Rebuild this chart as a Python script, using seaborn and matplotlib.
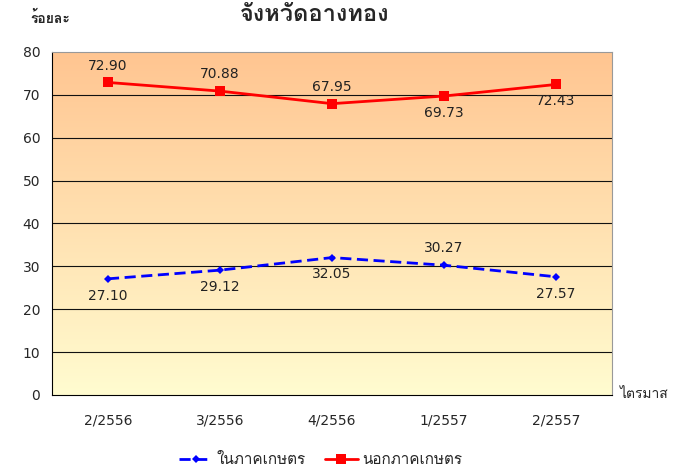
import numpy as np
import pandas as pd
import seaborn as sns
import matplotlib.pyplot as plt
from matplotlib import font_manager
from matplotlib.ft2font import FT2Font

quarters = ['2/2556', '3/2556', '4/2556', '1/2557', '2/2557']
in_agri = [27.10, 29.12, 32.05, 30.27, 27.57]
out_agri = [72.90, 70.88, 67.95, 69.73, 72.43]
in_label = 'ในภาคเกษตร'
out_label = 'นอกภาคเกษตร'
title = 'จังหวัดอ่างทอง'
ylabel = 'ร้อยละ'
xlabel = 'ไตรมาส'


def find_thai_font():
    # look for any installed font that has Thai glyphs
    for f in font_manager.fontManager.ttflist:
        try:
            if 0x0E01 in FT2Font(f.fname).get_charmap():
                return f.name
        except Exception:
            pass
    return None


sns.set_theme(style='white')
thai = find_thai_font()
fams = [thai, 'DejaVu Sans'] if thai else ['DejaVu Sans']
plt.rcParams['font.family'] = fams

df = pd.DataFrame({'x': np.arange(len(quarters)), 'in': in_agri, 'out': out_agri})

fig = plt.figure(figsize=(6.81, 4.68), dpi=100)
ax = fig.add_axes([52 / 681, 1 - 395 / 468, 560 / 681, 343 / 468])

# gradient background orange -> light yellow
top = np.array([255, 197, 145]) / 255
bot = np.array([255, 252, 208]) / 255
t = np.linspace(0, 1, 256)[:, None]
grad = (top * (1 - t) + bot * t)[:, None, :]
ax.imshow(grad, extent=[0, 1, 0, 1], transform=ax.transAxes, aspect='auto', zorder=0)

for v in range(10, 80, 10):
    ax.axhline(v, color='#111111', lw=0.8, zorder=1)

sns.lineplot(data=df, x='x', y='out', ax=ax, color='#ff0000', lw=2, marker='s',
             markersize=6.5, markeredgewidth=0, label=out_label, zorder=3)
sns.lineplot(data=df, x='x', y='in', ax=ax, color='#0000ff', lw=2, marker='D',
             markersize=4.5, markeredgewidth=0, label=in_label, zorder=3)
ax.lines[-1].set_dashes([4, 2])

out_pos = ['above', 'above', 'above', 'below', 'below']
in_pos = ['below', 'below', 'below', 'above', 'below']
for i in range(len(quarters)):
    for vals, pos in ((out_agri, out_pos), (in_agri, in_pos)):
        dy = 7 if pos[i] == 'above' else -7
        ax.annotate(f'{vals[i]:.2f}', (i, vals[i]), xytext=(0, dy), textcoords='offset points',
                    ha='center', va='bottom' if dy > 0 else 'top', fontsize=10, color='#222222',
                    family=['DejaVu Sans'])

ax.set_xlim(-0.5, len(quarters) - 0.5)
ax.set_ylim(0, 80)
ax.set_yticks(range(0, 81, 10))
ax.set_xticks(range(len(quarters)))
ax.set_xticklabels(quarters, fontsize=10, family=['DejaVu Sans'])
ax.set_xticks(np.arange(-0.5, len(quarters), 1), minor=True)
ax.tick_params(axis='x', which='major', length=0, pad=13)
ax.tick_params(axis='x', which='minor', length=6, width=0.8, color='black', direction='out')
ax.tick_params(axis='y', length=5, width=0.8, color='black', direction='out', labelsize=10)
for lab in ax.get_yticklabels():
    lab.set_family(['DejaVu Sans'])
ax.set_xlabel('')
ax.set_ylabel('')
for s in ('top', 'right'):
    ax.spines[s].set_color('#999999')
    ax.spines[s].set_linewidth(0.8)
for s in ('left', 'bottom'):
    ax.spines[s].set_color('black')
    ax.spines[s].set_linewidth(0.8)

fig.text(30 / 681, 1 - 18 / 468, ylabel, fontsize=10, fontweight='bold', va='center')
fig.text(620 / 681, 1 - 395 / 468, xlabel, fontsize=10, va='center')
fig.text(315 / 681, 1 - 2 / 468, title, fontsize=17, fontweight='bold', ha='center', va='top')

h, l = ax.get_legend_handles_labels()
ax.legend([h[1], h[0]], [l[1], l[0]], loc='center', bbox_to_anchor=(0.48, -0.19), ncol=2,
          frameon=False, fontsize=11, handlelength=2.2, columnspacing=1.2, handletextpad=0.3)

fig.savefig('out.png', dpi=100)
